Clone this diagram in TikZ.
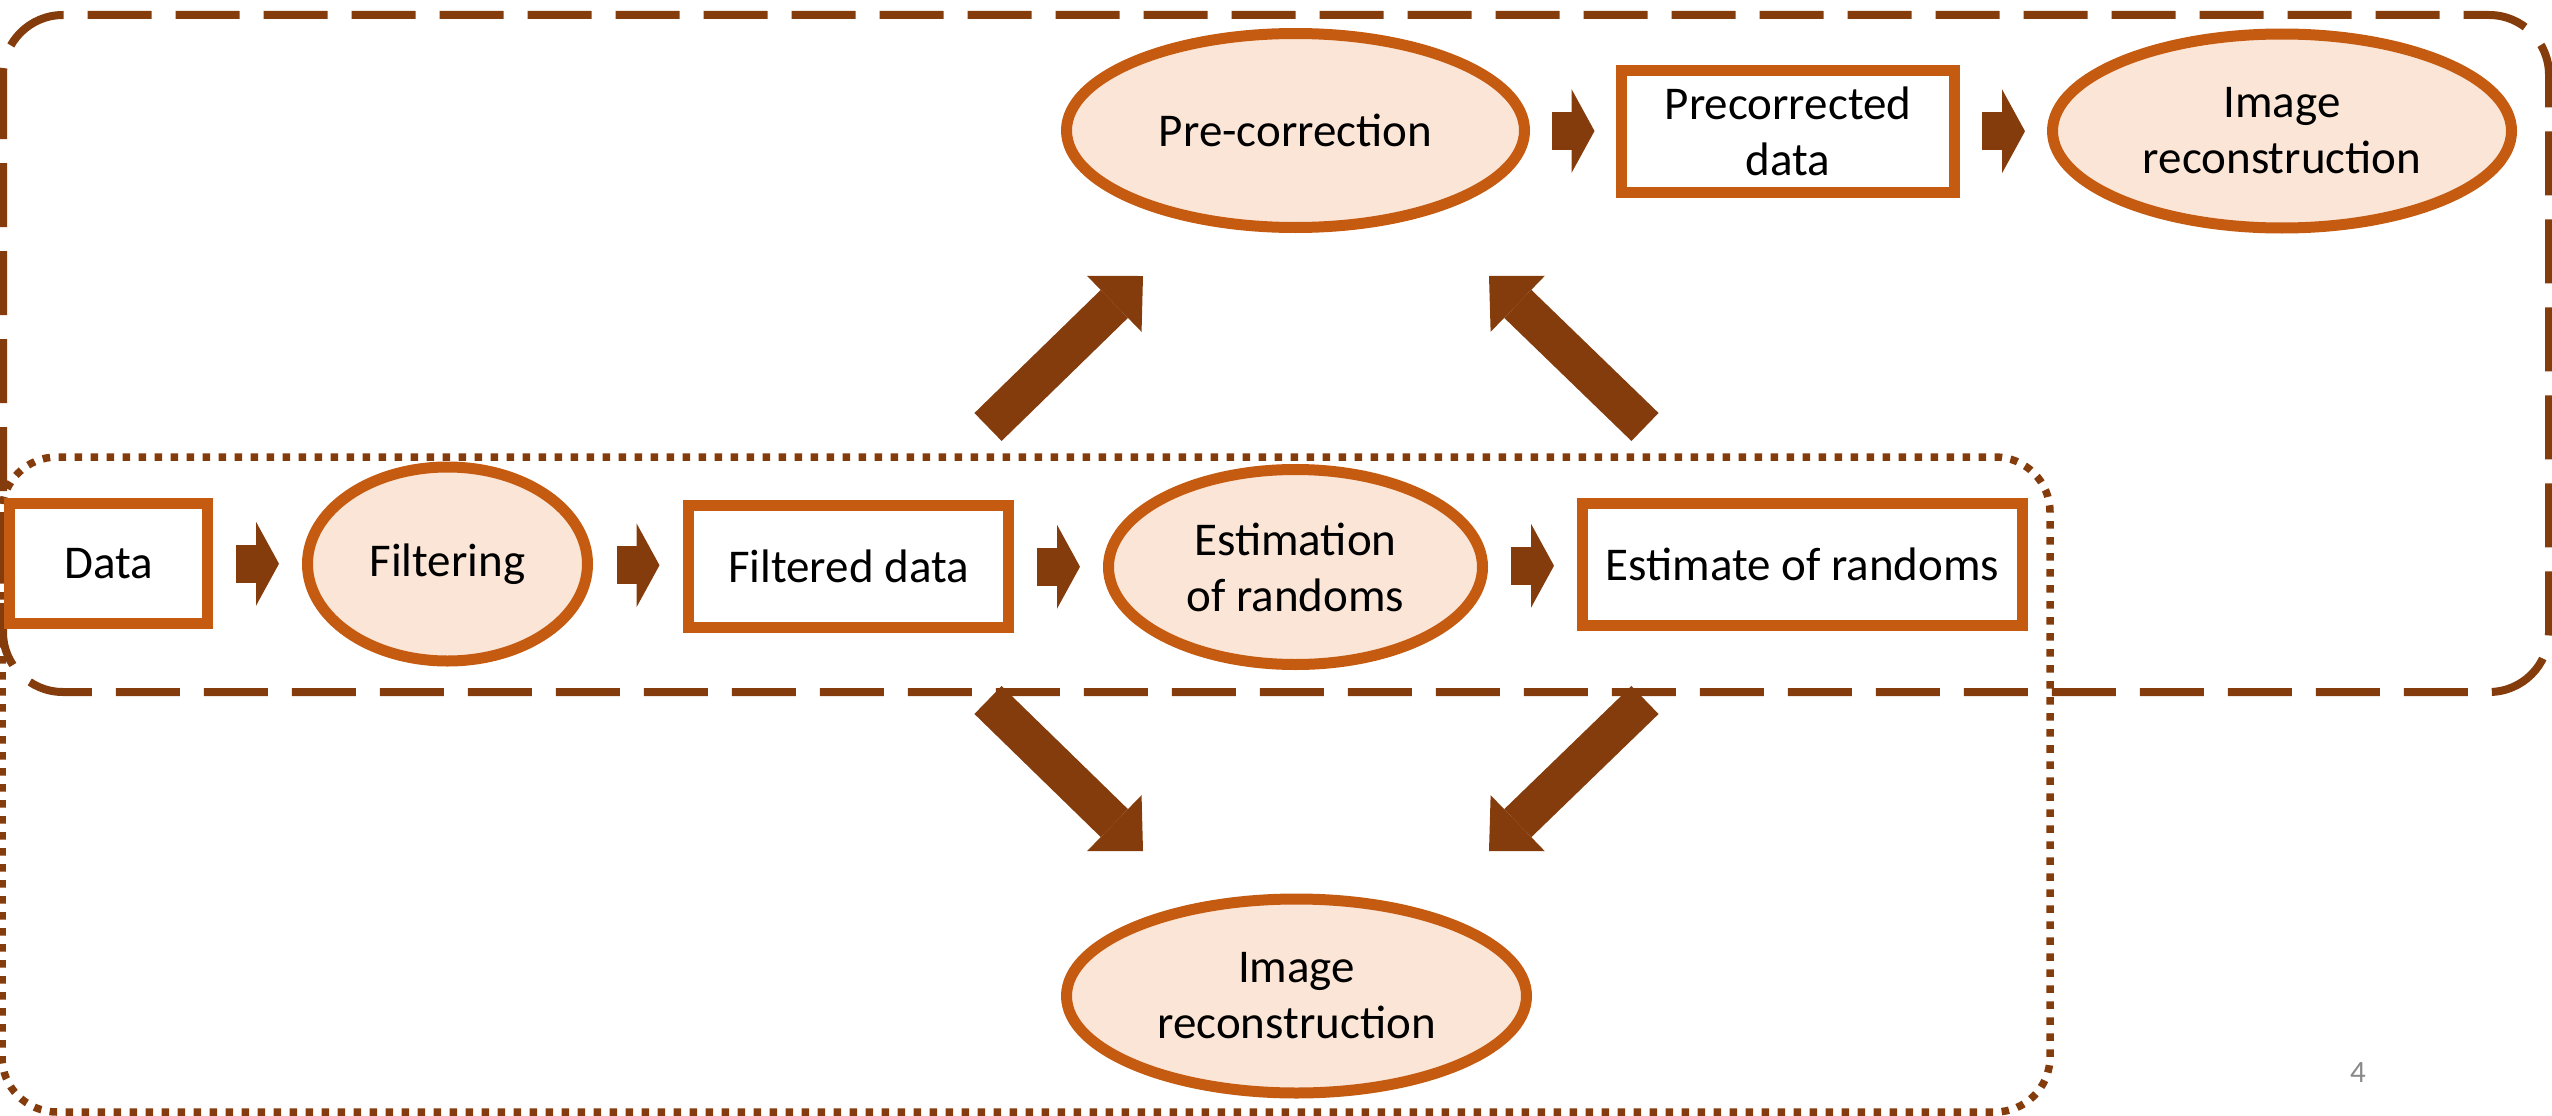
\documentclass[tikz,border=0pt]{standalone}
\usepackage{fontspec}
\setmainfont{Carlito}
\usetikzlibrary{arrows.meta,shapes.geometric,calc}
\definecolor{ordk}{HTML}{C55A11}
\definecolor{orlt}{HTML}{FBE5D6}
\definecolor{brn}{HTML}{843C0C}
\definecolor{pgnum}{HTML}{898989}
\begin{document}
\begin{tikzpicture}[x=1pt,y=-1pt,
  txt/.style={font=\fontsize{47}{56}\selectfont, text=black, align=center, inner sep=0pt},
  rbox/.style={txt, draw=ordk, line width=11pt, fill=white, rectangle},
  ebox/.style={txt, draw=ordk, line width=11pt, fill=orlt, ellipse},
  smallarr/.style={draw=brn, line width=38pt, -{Triangle[length=23pt,width=84pt,line width=0pt]}},
  bigarr/.style={draw=brn, line width=39pt, -{Triangle[length=40pt,width=78pt,line width=0pt]}},
  dashbox/.style={draw=brn, line width=8pt, dash pattern=on 64pt off 24pt, rounded corners=60pt},
  dotbox/.style={draw=brn, line width=7.5pt, dash pattern=on 7.5pt off 8.5pt, rounded corners=55pt},
]
\useasboundingbox (0,0) rectangle (2552,1116);
% group outlines
\draw[dashbox] (3,15) rectangle (2549,692);
\draw[dotbox] (2,457) rectangle (2050,1112);
% nodes
\node[ebox, minimum width=458pt, minimum height=194pt] (pre) at (1295.5,130.5) {Pre-correction};
\node[rbox, minimum width=333pt, minimum height=122pt] (pcd) at (1788,131.5) {Precorrected\\data};
\node[ebox, minimum width=459pt, minimum height=194pt] (irt) at (2282,131) {Image\\reconstruction};
\node[rbox, minimum width=198pt, minimum height=120pt] (data) at (108.5,563.5) {Data};
\node[ebox, minimum width=280pt, minimum height=194pt] (filt) at (447.5,564) {Filtering};
\node[rbox, minimum width=320pt, minimum height=122pt] (fdata) at (848.5,566.5) {Filtered data};
\node[ebox, minimum width=374pt, minimum height=195pt] (est) at (1295.5,567) {Estimation\\of randoms};
\node[rbox, minimum width=440pt, minimum height=122pt] (eor) at (1802.5,564.5) {Estimate of randoms};
\node[ebox, minimum width=460pt, minimum height=194pt] (irb) at (1296.5,996) {Image\\reconstruction};
\node[font=\fontsize{31}{37}\selectfont, text=pgnum, inner sep=0pt] (pg) at (2358,1073) {4};
% small block arrows between nodes
\coordinate (m1) at ($(data.east)!0.5!(filt.west)$);
\coordinate (m2) at ($(filt.east)!0.5!(fdata.west)$);
\coordinate (m3) at ($(fdata.east)!0.5!(est.west)$);
\coordinate (m4) at ($(est.east)!0.5!(eor.west)$);
\coordinate (m5) at ($(pre.east)!0.5!(pcd.west)$);
\coordinate (m6) at ($(pcd.east)!0.5!(irt.west)$);
\foreach \m in {m1,m2,m3,m4,m5,m6}{
  \draw[smallarr] ([xshift=-21.5pt]\m) -- ([xshift=21.5pt]\m);
}
% big diagonal arrows
\coordinate (u1s) at (988,427);  \coordinate (u1e) at (1143,276);
\coordinate (u2s) at (1645,427); \coordinate (u2e) at (1489,276);
\coordinate (d1s) at (988,700);  \coordinate (d1e) at (1143,851);
\coordinate (d2s) at (1645,700); \coordinate (d2e) at (1489,851);
\draw[bigarr] (u1s) -- (u1e);
\draw[bigarr] (u2s) -- (u2e);
\draw[bigarr] (d1s) -- (d1e);
\draw[bigarr] (d2s) -- (d2e);
\end{tikzpicture}
\end{document}
